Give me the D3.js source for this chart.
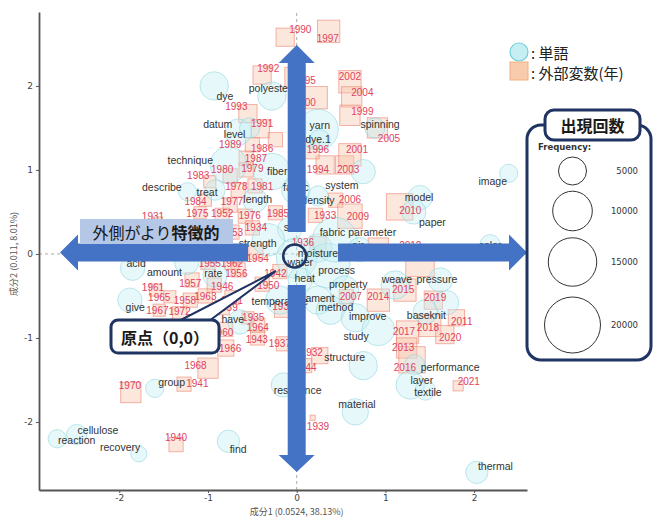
<!DOCTYPE html>
<html><head><meta charset="utf-8">
<script src="https://cdn.jsdelivr.net/npm/d3@7"></script>
<style>body{margin:0;background:#fff}svg{display:block}</style>
</head><body>
<script>
// Correspondence analysis: terms (circles) and publication years (squares)
// each row: [label, dim1, dim2, frequency, labelDim1, labelDim2]
const wordRows = [
  ["dye", -0.93, 2.00, 5150, -0.81, 1.88],
  ["polyester", -0.28, 1.88, 5150, -0.30, 1.98],
  ["datum", -0.66, 1.45, 4440, -0.89, 1.55],
  ["level", -0.53, 1.50, 2625, -0.70, 1.43],
  ["technique", -0.77, 1.06, 8500, -1.20, 1.12],
  ["fiber", -0.28, 0.98, 8500, -0.22, 0.99],
  ["describe", -1.23, 0.74, 2130, -1.52, 0.80],
  ["treat", -0.92, 0.76, 2625, -1.01, 0.74],
  ["fabric", -0.01, 0.76, 5150, -0.01, 0.80],
  ["length", -0.47, 0.64, 3780, -0.44, 0.65],
  ["system", 0.75, 0.98, 3780, 0.51, 0.82],
  ["density", 0.24, 0.69, 2625, 0.24, 0.64],
  ["size", -0.08, 0.29, 3780, -0.04, 0.32],
  ["strength", -0.32, 0.17, 6720, -0.44, 0.13],
  ["water", 0.00, -0.05, 10500, 0.04, -0.10],
  ["moisture", 0.24, 0.07, 5150, 0.24, 0.01],
  ["heat", 0.04, -0.31, 3780, 0.09, -0.29],
  ["acid", -1.85, -0.17, 3780, -1.81, -0.11],
  ["amount", -1.24, -0.10, 3780, -1.49, -0.21],
  ["rate", -0.92, -0.25, 3780, -0.94, -0.23],
  ["give", -1.88, -0.55, 3780, -1.82, -0.63],
  ["temperature", -0.19, -0.55, 5150, -0.19, -0.56],
  ["have", -0.64, -0.81, 3780, -0.72, -0.77],
  ["process", 0.35, -0.14, 12700, 0.45, -0.19],
  ["property", 0.54, -0.43, 5150, 0.58, -0.36],
  ["filament", 0.24, -0.55, 5150, 0.22, -0.52],
  ["method", 0.38, -0.67, 5150, 0.44, -0.63],
  ["improve", 0.66, -0.76, 5150, 0.80, -0.74],
  ["study", 0.92, -0.90, 6720, 0.67, -0.98],
  ["structure", 0.75, -1.33, 5150, 0.54, -1.23],
  ["resistance", -0.15, -1.56, 3780, 0.01, -1.62],
  ["material", 0.66, -1.88, 4440, 0.68, -1.79],
  ["thermal", 2.03, -2.60, 3180, 2.24, -2.52],
  ["group", -1.60, -1.60, 2130, -1.41, -1.52],
  ["cellulose", -2.48, -2.15, 2625, -2.24, -2.10],
  ["reaction", -2.70, -2.20, 2130, -2.48, -2.21],
  ["recovery", -1.78, -2.38, 1680, -1.99, -2.30],
  ["find", -0.77, -2.23, 3180, -0.66, -2.32],
  ["image", 2.39, 0.96, 2130, 2.21, 0.87],
  ["model", 1.39, 0.67, 3780, 1.38, 0.68],
  ["paper", 1.32, 0.50, 3780, 1.53, 0.38],
  ["fabric parameter", 0.43, 0.17, 12700, 0.69, 0.26],
  ["air", 0.71, 0.05, 3780, 0.69, 0.11],
  ["color", 2.18, 0.11, 2625, 2.18, 0.11],
  ["weave", 1.11, -0.37, 5150, 1.13, -0.30],
  ["pressure", 1.62, -0.31, 3780, 1.58, -0.30],
  ["base", 1.45, -0.69, 3780, 1.37, -0.73],
  ["knit", 1.69, -0.58, 3780, 1.59, -0.73],
  ["performance", 1.33, -1.32, 2625, 1.73, -1.35],
  ["layer", 1.28, -1.56, 5150, 1.41, -1.50],
  ["textile", 1.45, -1.62, 2625, 1.48, -1.64],
  ["spinning", 0.88, 1.50, 2625, 0.94, 1.55],
  ["yarn", 0.24, 1.48, 10500, 0.26, 1.54],
  ["dye.1", 0.26, 1.36, 2625, 0.24, 1.37]
];

// each row: [year, dim1, dim2, frequency, labelDim1, labelDim2]
const yearRows = [
  ["1990", -0.13, 2.58, 2700, 0.04, 2.67],
  ["1997", 0.36, 2.65, 4050, 0.35, 2.57],
  ["1992", -0.39, 2.13, 2700, -0.32, 2.21],
  ["1995", -0.02, 2.10, 3350, 0.09, 2.07],
  ["2002", 0.60, 2.05, 4050, 0.60, 2.11],
  ["2004", 0.62, 1.87, 3350, 0.74, 1.92],
  ["1999", 0.60, 1.65, 3350, 0.74, 1.69],
  ["2000", 0.22, 1.86, 4050, 0.09, 1.80],
  ["1993", -0.55, 1.67, 2700, -0.68, 1.75],
  ["1991", -0.41, 1.49, 2700, -0.39, 1.55],
  ["1989", -0.50, 1.30, 1640, -0.75, 1.30],
  ["1986", -0.24, 1.36, 1640, -0.39, 1.25],
  ["1987", -0.57, 1.14, 1640, -0.46, 1.14],
  ["1980", -0.75, 0.93, 1640, -0.84, 1.00],
  ["1979", -0.57, 1.00, 1640, -0.50, 1.02],
  ["1983", -0.98, 0.86, 1200, -1.11, 0.93],
  ["1978", -0.66, 0.76, 1640, -0.68, 0.80],
  ["1981", -0.47, 0.81, 1640, -0.39, 0.80],
  ["1984", -1.03, 0.64, 1200, -1.14, 0.63],
  ["1977", -0.75, 0.58, 1640, -0.73, 0.62],
  ["1975", -1.09, 0.49, 1200, -1.12, 0.48],
  ["1952", -0.84, 0.46, 1640, -0.84, 0.48],
  ["1976", -0.58, 0.45, 1640, -0.53, 0.46],
  ["1985", -0.24, 0.49, 1640, -0.21, 0.48],
  ["1934", -0.50, 0.31, 1640, -0.46, 0.32],
  ["1931", -1.57, 0.38, 840, -1.62, 0.45],
  ["1953", -0.73, 0.26, 1640, -0.73, 0.26],
  ["1936", 0.24, 0.11, 2150, 0.07, 0.14],
  ["1954", -0.46, 0.02, 1640, -0.44, -0.05],
  ["1942", -0.19, -0.21, 1640, -0.24, -0.23],
  ["1955", -1.00, -0.10, 1640, -0.98, -0.11],
  ["1962", -0.73, -0.10, 1640, -0.73, -0.11],
  ["1956", -0.66, -0.19, 1640, -0.68, -0.23],
  ["1957", -1.18, -0.31, 1640, -1.20, -0.35],
  ["1946", -0.93, -0.37, 1640, -0.84, -0.39],
  ["1950", -0.39, -0.36, 1640, -0.32, -0.37],
  ["1961", -1.59, -0.43, 1200, -1.62, -0.40],
  ["1965", -1.43, -0.51, 1200, -1.55, -0.52],
  ["1958", -1.20, -0.55, 1640, -1.26, -0.55],
  ["1963", -1.03, -0.50, 1640, -1.03, -0.51],
  ["1951", -0.73, -0.52, 1640, -0.73, -0.55],
  ["1967", -1.55, -0.67, 1200, -1.57, -0.67],
  ["1972", -1.32, -0.71, 1640, -1.32, -0.69],
  ["1959", -0.84, -0.64, 1640, -0.79, -0.64],
  ["1935", -0.55, -0.76, 1200, -0.49, -0.76],
  ["1938", -0.17, -0.67, 1640, -0.15, -0.63],
  ["1964", -0.44, -0.85, 1640, -0.44, -0.88],
  ["1960", -0.80, -0.90, 1640, -0.84, -0.94],
  ["1943", -0.44, -1.00, 1640, -0.45, -1.02],
  ["1966", -0.80, -1.12, 2150, -0.75, -1.12],
  ["1968", -1.00, -1.36, 3350, -1.14, -1.33],
  ["1970", -1.87, -1.65, 3350, -1.88, -1.57],
  ["1941", -1.27, -1.55, 1640, -1.12, -1.54],
  ["1940", -1.36, -2.27, 1640, -1.36, -2.19],
  ["1939", 0.18, -1.95, 210, 0.24, -2.05],
  ["1932", 0.26, -1.21, 2150, 0.17, -1.17],
  ["1944", 0.09, -1.33, 1640, 0.10, -1.35],
  ["1937", -0.15, -1.07, 1640, -0.19, -1.07],
  ["1933", 0.21, 0.46, 1640, 0.32, 0.46],
  ["2006", 0.44, 0.64, 1640, 0.60, 0.65],
  ["2003", 0.54, 1.06, 2700, 0.58, 1.00],
  ["1994", 0.32, 1.06, 2700, 0.24, 1.00],
  ["1996", 0.15, 1.24, 2700, 0.24, 1.24],
  ["2001", 0.60, 1.18, 4050, 0.68, 1.24],
  ["2005", 0.91, 1.50, 3350, 1.04, 1.37],
  ["2009", 0.60, 0.45, 4830, 0.69, 0.44],
  ["2010", 1.16, 0.56, 5660, 1.28, 0.52],
  ["2008", 0.92, 0.07, 3350, 0.97, 0.07],
  ["2012", 1.39, -0.10, 6570, 1.28, 0.10],
  ["2007", 0.56, -0.51, 1640, 0.61, -0.51],
  ["2014", 0.92, -0.55, 4050, 0.92, -0.51],
  ["2015", 1.22, -0.43, 4050, 1.20, -0.42],
  ["2019", 1.54, -0.55, 2700, 1.56, -0.52],
  ["2011", 1.80, -0.76, 2150, 1.86, -0.81],
  ["2018", 1.50, -0.85, 4050, 1.48, -0.87],
  ["2017", 1.25, -0.93, 4050, 1.21, -0.92],
  ["2020", 1.67, -0.96, 2700, 1.73, -1.00],
  ["2013", 1.24, -1.12, 3350, 1.20, -1.11],
  ["2016", 1.30, -1.26, 5660, 1.22, -1.35],
  ["2021", 1.82, -1.57, 840, 1.94, -1.52]
];

const xTicks = [-2, -1, 0, 1, 2];
const yTicks = [-2, -1, 0, 1, 2];
const freqLegend = [5000, 10000, 15000, 20000];
const xTitle = "成分1 (0.0524, 38.13%)";
const yTitle = "成分2 (0.011, 8.01%)";
const typeLegend = [["circle", ": 単語"], ["square", ": 外部変数(年)"]];
const legendTitle = "出現回数";
const originNote = "原点（0,0）";
const outerNote = ["外側がより", "特徴的"];

const W = 654, H = 519;
const svg = d3.select("body").append("svg").attr("width", W).attr("height", H)
  .style("font-family", "'Liberation Sans', Arial, sans-serif");

const x = d3.scaleLinear().domain([-2.905, 2.596]).range([39, 527]);
const y = d3.scaleLinear().domain([-2.81, 2.88]).range([490, 12]);
const r = d3.scaleSqrt().domain([0, 5000]).range([0, 14]).clamp(false);

const navy = "#1f3463", blue = "#4472c4";

// origin guide lines
svg.append("line").attr("x1", x.range()[0]).attr("x2", x.range()[1])
  .attr("y1", y(0)).attr("y2", y(0))
  .attr("stroke", "#aaa").attr("stroke-dasharray", "3,3");
svg.append("line").attr("x1", x(0)).attr("x2", x(0))
  .attr("y1", y.range()[0]).attr("y2", y.range()[1])
  .attr("stroke", "#aaa").attr("stroke-dasharray", "3,3");

// year squares
svg.append("g").selectAll("rect").data(yearRows).join("rect")
  .attr("x", d => x(d[1]) - r(d[3]) * 0.886)
  .attr("y", d => y(d[2]) - r(d[3]) * 0.886)
  .attr("width", d => r(d[3]) * 1.772)
  .attr("height", d => r(d[3]) * 1.772)
  .attr("fill", "rgba(248,196,170,0.4)")
  .attr("stroke", "rgba(236,120,100,0.55)").attr("stroke-width", 1);

// term circles
svg.append("g").selectAll("circle").data(wordRows).join("circle")
  .attr("cx", d => x(d[1])).attr("cy", d => y(d[2])).attr("r", d => r(d[3]))
  .attr("fill", "rgba(195,238,242,0.4)")
  .attr("stroke", "rgba(130,210,218,0.5)").attr("stroke-width", 1);

// labels
svg.append("g").selectAll("text").data(yearRows).join("text")
  .attr("x", d => x(d[4])).attr("y", d => y(d[5]))
  .attr("text-anchor", "middle").attr("dominant-baseline", "central")
  .attr("font-size", 10).attr("fill", "#e0435e").text(d => d[0]);
svg.append("g").selectAll("text").data(wordRows).join("text")
  .attr("x", d => x(d[4])).attr("y", d => y(d[5]))
  .attr("text-anchor", "middle").attr("dominant-baseline", "central")
  .attr("font-size", 10.5).attr("fill", "#333").text(d => d[0]);

// axes
const fmt = d => String(d);
const gx = svg.append("g").attr("transform", `translate(0,${y.range()[0]})`)
  .call(d3.axisBottom(x).tickValues(xTicks).tickFormat(fmt).tickSize(3).tickPadding(2).tickSizeOuter(0));
const gy = svg.append("g").attr("transform", `translate(${x.range()[0]},0)`)
  .call(d3.axisLeft(y).tickValues(yTicks).tickFormat(fmt).tickSize(3).tickPadding(3).tickSizeOuter(0));
[gx, gy].forEach(g => {
  g.select(".domain").attr("stroke", "#555").attr("stroke-width", 1.8);
  g.selectAll(".tick line").attr("stroke", "#555");
  g.selectAll(".tick text").attr("font-size", 9).attr("fill", "#444")
    .attr("font-family", "'DejaVu Sans', sans-serif");
});
svg.append("text").attr("x", x(0)).attr("y", 511).attr("text-anchor", "middle")
  .attr("dominant-baseline", "central").attr("font-size", 9).attr("fill", "#555")
  .attr("font-family", "'Noto Sans CJK JP', sans-serif").text(xTitle);
svg.append("text").attr("transform", `translate(13,${y(0)}) rotate(-90)`)
  .attr("text-anchor", "middle").attr("dominant-baseline", "central")
  .attr("font-size", 9).attr("fill", "#555")
  .attr("font-family", "'Noto Sans CJK JP', sans-serif").text(yTitle);

// direction arrows
const cx0 = x(0), cy0 = y(0) - 1.5;
const arrowPaths = [
  [[cx0, 45], [cx0 + 18, 63], [cx0 + 9, 63], [cx0 + 9, 232], [cx0 - 9, 232], [cx0 - 9, 63], [cx0 - 18, 63]],
  [[cx0 - 9, 285], [cx0 + 9, 285], [cx0 + 9, 455], [cx0 + 18, 455], [cx0, 472], [cx0 - 18, 455], [cx0 - 9, 455]],
  [[60, cy0], [78, cy0 - 18], [78, cy0 - 9], [248, cy0 - 9], [248, cy0 + 9], [78, cy0 + 9], [78, cy0 + 18]],
  [[338, cy0 - 9], [509, cy0 - 9], [509, cy0 - 18], [527, cy0], [509, cy0 + 18], [509, cy0 + 9], [338, cy0 + 9]]
];
svg.append("g").selectAll("path").data(arrowPaths).join("path")
  .attr("d", d => "M" + d.join("L") + "Z").attr("fill", blue);

// "outer is more characteristic" tag
svg.append("rect").attr("x", 80).attr("y", 219).attr("width", 153).attr("height", 25)
  .attr("fill", "#b4c7e7");
const tag = svg.append("text").attr("x", 156).attr("y", 231.5).attr("text-anchor", "middle")
  .attr("dominant-baseline", "central").attr("font-size", 16).attr("fill", "#1a1a1a")
  .attr("font-family", "'Noto Sans CJK JP', sans-serif");
tag.append("tspan").text(outerNote[0]);
tag.append("tspan").attr("font-weight", "bold").text(outerNote[1]);

// origin marker and callout
svg.append("circle").attr("cx", cx0 - 2).attr("cy", y(0) + 2).attr("r", 11.5)
  .attr("fill", "none").attr("stroke", navy).attr("stroke-width", 2.5);
svg.append("path").attr("d", "M173,324L276,271L205,324Z")
  .attr("fill", "#fff").attr("stroke", navy).attr("stroke-width", 2);
svg.append("rect").attr("x", 111).attr("y", 320).attr("width", 108).attr("height", 33)
  .attr("rx", 7).attr("fill", "#fff").attr("stroke", navy).attr("stroke-width", 3);
svg.append("text").attr("x", 165).attr("y", 337).attr("text-anchor", "middle")
  .attr("dominant-baseline", "central").attr("font-size", 16).attr("font-weight", "bold")
  .attr("fill", "#1a1a1a").attr("font-family", "'Noto Sans CJK JP', sans-serif")
  .text(originNote);

// marker type legend
const tl = svg.append("g").attr("font-family", "'Noto Sans CJK JP', sans-serif");
tl.append("circle").attr("cx", 519).attr("cy", 52).attr("r", 9)
  .attr("fill", "#c5eff3").attr("stroke", "#6fcfd8").attr("stroke-width", 1.2);
tl.append("rect").attr("x", 510).attr("y", 62).attr("width", 18).attr("height", 18)
  .attr("fill", "#f8cbad").attr("stroke", "#f4b183");
tl.selectAll("text").data(typeLegend).join("text")
  .attr("x", 531).attr("y", (d, i) => 52 + i * 20).attr("dominant-baseline", "central")
  .attr("font-size", 15).attr("fill", "#222").text(d => d[1]);

// frequency legend
const fl = svg.append("g");
fl.append("rect").attr("x", 527).attr("y", 125).attr("width", 124).attr("height", 235)
  .attr("rx", 14).attr("fill", "#fff").attr("stroke", navy).attr("stroke-width", 3);
fl.append("rect").attr("x", 545).attr("y", 110).attr("width", 95).attr("height", 30)
  .attr("rx", 9).attr("fill", "#fff").attr("stroke", navy).attr("stroke-width", 3);
fl.append("text").attr("x", 592.5).attr("y", 125).attr("text-anchor", "middle")
  .attr("dominant-baseline", "central").attr("font-size", 16).attr("font-weight", "bold")
  .attr("fill", "#1a1a1a").attr("font-family", "'Noto Sans CJK JP', sans-serif")
  .text(legendTitle);
fl.append("text").attr("x", 538).attr("y", 147).attr("dominant-baseline", "central")
  .attr("font-size", 8.5).attr("font-weight", "bold").attr("fill", "#333")
  .attr("font-family", "'DejaVu Sans', sans-serif").text("Frequency:");
const legendY = [171, 211, 262, 325];
fl.selectAll("circle").data(freqLegend).join("circle")
  .attr("cx", 572.5).attr("cy", (d, i) => legendY[i]).attr("r", d => r(d))
  .attr("fill", "none").attr("stroke", "#333").attr("stroke-width", 1);
fl.selectAll("text.fv").data(freqLegend).join("text").attr("class", "fv")
  .attr("x", 638).attr("y", (d, i) => legendY[i]).attr("text-anchor", "end")
  .attr("dominant-baseline", "central").attr("font-size", 8.5).attr("fill", "#333")
  .attr("font-family", "'DejaVu Sans', sans-serif").text(d => d);
</script>
</body></html>
